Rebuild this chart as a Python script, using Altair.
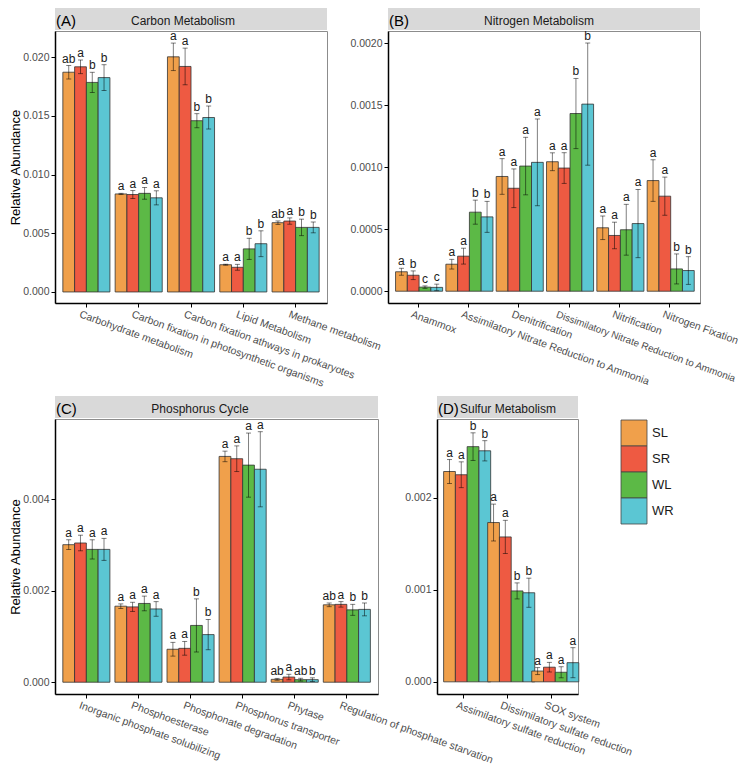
import altair as alt
import pandas as pd

FONT = "Liberation Sans"

groups = ["SL", "SR", "WL", "WR"]
colors = ["#F0A04B", "#EE5A42", "#5CB946", "#5BC6D3"]

# (A) Carbon Metabolism
A_cats = ["Carbohydrate metabolism",
          "Carbon fixation in photosynthetic organisms",
          "Carbon fixation athways in prokaryotes",
          "Lipid Metabolism",
          "Methane metabolism"]
A_mean = [[0.01872, 0.01918, 0.01785, 0.01826],
          [0.00835, 0.00830, 0.00840, 0.00802],
          [0.02003, 0.01921, 0.01459, 0.01486],
          [0.00232, 0.00210, 0.00367, 0.00411],
          [0.00590, 0.00604, 0.00550, 0.00550]]
A_err = [[0.00057, 0.00058, 0.00086, 0.00110],
         [0.00005, 0.00034, 0.00050, 0.00060],
         [0.00117, 0.00156, 0.00060, 0.00098],
         [0.00004, 0.00025, 0.00090, 0.00110],
         [0.00015, 0.00027, 0.00070, 0.00046]]
A_sig = [["ab", "a", "b", "b"],
         ["a", "a", "a", "a"],
         ["a", "a", "b", "b"],
         ["a", "a", "b", "b"],
         ["ab", "a", "b", "b"]]
A_ticks = [0.0, 0.005, 0.010, 0.015, 0.020]

# (B) Nitrogen Metabolism
B_cats = ["Anammox",
          "Assimilatory Nitrate Reduction to Ammonia",
          "Denitrification",
          "Dissimilatory Nitrate Reduction to Ammonia",
          "Nitrification",
          "Nitrogen Fixation"]
B_mean = [[0.000157, 0.000129, 0.000033, 0.000031],
          [0.000218, 0.000283, 0.000638, 0.000600],
          [0.000926, 0.000831, 0.001010, 0.001040],
          [0.001045, 0.000994, 0.001434, 0.001510],
          [0.000512, 0.000450, 0.000496, 0.000546],
          [0.000893, 0.000767, 0.000180, 0.000167]]
B_err = [[0.000028, 0.000035, 0.000010, 0.000026],
         [0.000039, 0.000064, 0.000097, 0.000125],
         [0.000144, 0.000156, 0.000232, 0.000350],
         [0.000072, 0.000124, 0.000283, 0.000493],
         [0.000095, 0.000107, 0.000205, 0.000275],
         [0.000168, 0.000154, 0.000121, 0.000112]]
B_sig = [["a", "b", "c", "c"],
         ["a", "a", "b", "b"],
         ["a", "a", "a", "a"],
         ["a", "a", "b", "b"],
         ["a", "a", "a", "a"],
         ["a", "a", "b", "b"]]
B_ticks = [0.0, 0.0005, 0.0010, 0.0015, 0.0020]

# (C) Phosphorus Cycle
C_cats = ["Inorganic phosphate solubilizing",
          "Phosphoesterase",
          "Phosphonate degradation",
          "Phosphorus transporter",
          "Phytase",
          "Regulation of phosphate starvation"]
C_mean = [[0.003003, 0.003040, 0.002900, 0.002900],
          [0.001660, 0.001645, 0.001720, 0.001600],
          [0.000720, 0.000740, 0.001240, 0.001040],
          [0.004930, 0.004880, 0.004740, 0.004650],
          [0.000063, 0.000113, 0.000056, 0.000056],
          [0.001690, 0.001700, 0.001580, 0.001590]]
C_err = [[0.000105, 0.000170, 0.000210, 0.000240],
         [0.000050, 0.000100, 0.000160, 0.000160],
         [0.000150, 0.000150, 0.000580, 0.000330],
         [0.000115, 0.000280, 0.000700, 0.000820],
         [0.000020, 0.000060, 0.000030, 0.000040],
         [0.000040, 0.000060, 0.000120, 0.000140]]
C_sig = [["a", "a", "a", "a"],
         ["a", "a", "a", "a"],
         ["a", "a", "b", "b"],
         ["a", "a", "a", "a"],
         ["ab", "a", "ab", "b"],
         ["ab", "a", "b", "b"]]
C_ticks = [0.0, 0.002, 0.004]

# (D) Sulfur Metabolism
D_cats = ["Assimilatory sulfate reduction",
          "Dissimilatory sulfate reduction",
          "SOX system"]
D_mean = [[0.002283, 0.002248, 0.002553, 0.002508],
          [0.001729, 0.001573, 0.000987, 0.000967],
          [0.000117, 0.000159, 0.000104, 0.000208]]
D_err = [[0.000130, 0.000140, 0.000150, 0.000110],
         [0.000200, 0.000180, 0.000087, 0.000158],
         [0.000038, 0.000052, 0.000060, 0.000163]]
D_sig = [["a", "a", "b", "b"],
         ["a", "a", "b", "b"],
         ["a", "a", "a", "a"]]
D_ticks = [0.0, 0.001, 0.002]


def build_df(cats, mean, err, sig):
    rows = []
    for i, c in enumerate(cats):
        for j, g in enumerate(groups):
            m = mean[i][j]
            e = err[i][j]
            rows.append({"cat": c, "grp": g, "val": m, "lo": m - e,
                         "hi": m + e, "sig": sig[i][j]})
    return pd.DataFrame(rows)


color_enc = alt.Color("grp:N", sort=groups,
                      scale=alt.Scale(domain=groups, range=colors), legend=None)

LONG = "Dissimilatory Nitrate Reduction to Ammonia"
TEST = "datum.value === '" + LONG + "'"


def panel(tag, title, title_x, cats, mean, err, sig, w, h, dom, ticks, fmt, ytitle):
    df = build_df(cats, mean, err, sig)
    base = alt.Chart(df)
    xenc = alt.X("cat:N", sort=cats, title=None,
                 scale=alt.Scale(paddingInner=0.1, paddingOuter=0.15),
                 axis=alt.Axis(labelAngle=20, labelAlign="left", labelBaseline="top",
                               labelLimit=400, labelPadding=2,
                               labelOffset={"condition": {"test": TEST, "value": -11},
                                            "value": -5},
                               labelFontSize={"condition": {"test": TEST, "value": 9.9},
                                              "value": 10.5}))
    xo = alt.XOffset("grp:N", sort=groups,
                     scale=alt.Scale(paddingInner=0, paddingOuter=0))
    ysc = alt.Scale(domain=dom, nice=False, zero=False)
    yax = alt.Axis(values=ticks, format=fmt, title=ytitle)

    def Y(f):
        return alt.Y(f, scale=ysc, axis=yax)

    bars = base.mark_bar(stroke="#333333", strokeWidth=0.8).encode(
        x=xenc, xOffset=xo, y=Y("val:Q"), color=color_enc)
    rule = base.mark_rule(color="black", opacity=0.5, strokeWidth=1).encode(
        x=xenc, xOffset=xo, y=Y("lo:Q"), y2="hi:Q")
    cap_hi = base.mark_tick(orient="horizontal", size=5, thickness=1,
                            color="black", opacity=0.5).encode(
        x=xenc, xOffset=xo, y=Y("hi:Q"))
    cap_lo = base.mark_tick(orient="horizontal", size=5, thickness=1,
                            color="black", opacity=0.5).encode(
        x=xenc, xOffset=xo, y=Y("lo:Q"))
    txt = base.mark_text(baseline="alphabetic", dy=-3, fontSize=12,
                         color="#1a1a1a").encode(
        x=xenc, xOffset=xo, y=Y("hi:Q"), text="sig:N")

    lab = pd.DataFrame({"tag": [tag], "title": [title]})
    lb = alt.Chart(lab)
    strip = lb.mark_rect(color="#D9D9D9").encode(
        x=alt.value(0), x2=alt.value(w), y=alt.value(-23), y2=alt.value(-1))
    tagt = lb.mark_text(align="left", baseline="alphabetic", fontSize=15,
                        color="black").encode(
        x=alt.value(1), y=alt.value(-5), text="tag:N")
    titt = lb.mark_text(align="center", baseline="alphabetic", fontSize=12,
                        color="#1a1a1a").encode(
        x=alt.value(title_x), y=alt.value(-6), text="title:N")
    return alt.layer(strip, bars, rule, cap_hi, cap_lo, txt, tagt, titt).properties(
        width=w, height=h)


pA = panel("(A)", "Carbon Metabolism", 128, A_cats, A_mean, A_err, A_sig,
           272, 272, [-0.00094, 0.02223], A_ticks, ".3f", "Relative Abundance")
pB = panel("(B)", "Nitrogen Metabolism", 151, B_cats, B_mean, B_err, B_sig,
           312, 272, [-0.000095, 0.0021], B_ticks, ".4f", None)
pC = panel("(C)", "Phosphorus Cycle", 145, C_cats, C_mean, C_err, C_sig,
           323, 275, [-0.000257, 0.005747], C_ticks, ".3f", "Relative Abundance")
pD = panel("(D)", "Sulfur Metabolism", 71, D_cats, D_mean, D_err, D_sig,
           141, 275, [-0.000132, 0.002853], D_ticks, ".3f", None)

# legend drawn as a small chart of its own
ldf = pd.DataFrame({"grp": groups})
lbase = alt.Chart(ldf)
ly = alt.Y("grp:N", sort=groups,
           scale=alt.Scale(paddingInner=0, paddingOuter=0, range=[1, 105]),
           axis=None)
lrect = lbase.mark_rect(stroke="#444444", strokeWidth=0.8).encode(
    x=alt.value(-16), x2=alt.value(10), y=ly, color=color_enc)
ltext = lbase.mark_text(align="left", baseline="middle", fontSize=13,
                        color="#1a1a1a").encode(
    x=alt.value(15), y=ly, text="grp:N")
legend = alt.layer(lrect, ltext).properties(
    width=26, height=275, view=alt.ViewBackground(stroke="transparent"))

row1 = alt.hconcat(pA, pB, spacing=61, bounds="flush")
row2 = alt.hconcat(pC, pD, legend, spacing=59, bounds="flush")

chart = alt.vconcat(row1, row2, spacing=5).properties(
    autosize=alt.AutoSizeParams(type="none"),
    padding={"left": 47, "top": 23, "right": 687, "bottom": 736},
).configure(
    font=FONT
).configure_view(
    stroke="#8c8c8c", strokeWidth=1
).configure_axis(
    labelFont=FONT, titleFont=FONT, labelFontSize=10.5, labelColor="#4d4d4d",
    tickColor="black", domainColor="black", domainWidth=1.5, tickSize=4,
    tickWidth=1, grid=False, titleFontWeight="normal", titleFontSize=13,
    titleColor="black", labelPadding=2, titlePadding=0
)

chart.save("out.html", embed_options={"renderer": "svg", "actions": False})
